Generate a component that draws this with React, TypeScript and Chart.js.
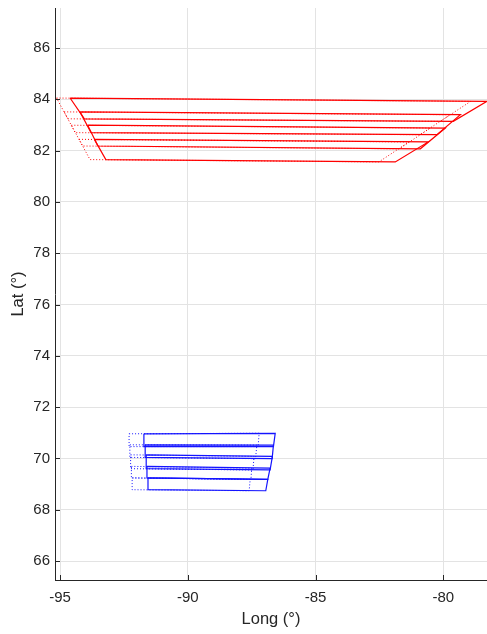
import React, { useEffect, useRef } from 'react';
import { Chart, registerables } from 'chart.js';

Chart.register(...registerables);

// Axis ticks
const xTicks = [-95, -90, -85, -80];
const yTicks = [66, 68, 70, 72, 74, 76, 78, 80, 82, 84, 86];
const xMin = -95.2;
const xMax = -78.29;
const yMin = 65.26;
const yMax = 87.56;

// Red footprints (4 overlapping strips) – latitudes
const redTopLatL = [84.05, 83.51, 82.99, 82.44];
const redTopLatR = [83.92, 83.4, 82.88, 82.34];
const redBotLatL = [83.24, 82.7, 82.18, 81.65];
const redBotLatR = [83.14, 82.62, 82.07, 81.56];
// Red solid – longitudes
const redSolidTopLonL = [-94.61, -94.22, -93.92, -93.66];
const redSolidBotLonL = [-94.05, -93.79, -93.52, -93.21];
const redSolidTopLonR = [-78.29, -79.33, -79.92, -80.59];
const redSolidBotLonR = [-79.61, -80.25, -80.9, -81.88];
// Red dotted – longitudes
const redDotTopLonL = [-95.14, -94.84, -94.56, -94.26];
const redDotBotLonL = [-94.7, -94.41, -94.12, -93.83];
const redDotTopLonR = [-78.93, -79.73, -80.51, -81.34];
const redDotBotLonR = [-80.12, -80.91, -81.73, -82.52];

// Blue footprints (5 strips) – latitudes
const blueTopLatL = [70.96, 70.53, 70.14, 69.69, 69.24];
const blueTopLatR = [70.98, 70.52, 70.08, 69.62, 69.18];
const blueBotLatL = [70.46, 70.04, 69.6, 69.24, 68.78];
const blueBotLatR = [70.46, 69.99, 69.55, 69.18, 68.74];
// Blue solid – longitudes
const blueSolidLonL = [-91.72, -91.67, -91.63, -91.6, -91.56];
const blueSolidTopLonR = [-86.58, -86.65, -86.69, -86.78, -86.87];
const blueSolidBotLonR = [-86.65, -86.7, -86.78, -86.87, -86.95];
// Blue dotted – longitudes
const blueDotLonL = [-92.3, -92.27, -92.24, -92.21, -92.18];
const blueDotTopLonR = [-87.21, -87.3, -87.41, -87.5, -87.56];
const blueDotBotLonR = [-87.25, -87.35, -87.45, -87.53, -87.6];

const RED = 'rgb(255,0,0)';
const BLUE = 'rgb(20,20,255)';
const AXIS = '#262626';
const FONT = "'Liberation Sans', Arial, Helvetica, sans-serif";

function polys(
  topLatL: number[], topLatR: number[], botLatL: number[], botLatR: number[],
  topLonL: number[], botLonL: number[], topLonR: number[], botLonR: number[]
) {
  return topLatL.map((_, i) => [
    { x: topLonL[i], y: topLatL[i] },
    { x: topLonR[i], y: topLatR[i] },
    { x: botLonR[i], y: botLatR[i] },
    { x: botLonL[i], y: botLatL[i] },
    { x: topLonL[i], y: topLatL[i] },
  ]);
}

function makeSets(list: { x: number; y: number }[][], color: string, dotted: boolean) {
  return list.map((pts) => ({
    data: pts,
    showLine: true,
    borderColor: color,
    backgroundColor: color,
    borderWidth: dotted ? 1 : 1.2,
    borderDash: dotted ? [1, 2] : [],
    pointRadius: 0,
    fill: false,
    tension: 0,
  }));
}

const tickMarks = {
  id: 'tickMarks',
  afterDraw(chart: any) {
    const { ctx, chartArea, scales } = chart;
    ctx.save();
    ctx.strokeStyle = AXIS;
    ctx.lineWidth = 1;
    ctx.beginPath();
    xTicks.forEach((v) => {
      const px = Math.round(scales.x.getPixelForValue(v)) + 0.5;
      ctx.moveTo(px, chartArea.bottom);
      ctx.lineTo(px, chartArea.bottom - 5);
    });
    yTicks.forEach((v) => {
      const py = Math.round(scales.y.getPixelForValue(v)) + 0.5;
      ctx.moveTo(chartArea.left, py);
      ctx.lineTo(chartArea.left + 5, py);
    });
    ctx.stroke();
    ctx.restore();
  },
};

export default function App() {
  const ref = useRef<HTMLCanvasElement | null>(null);
  useEffect(() => {
    if (!ref.current) return;
    const redDot = polys(redTopLatL, redTopLatR, redBotLatL, redBotLatR, redDotTopLonL, redDotBotLonL, redDotTopLonR, redDotBotLonR);
    const redSolid = polys(redTopLatL, redTopLatR, redBotLatL, redBotLatR, redSolidTopLonL, redSolidBotLonL, redSolidTopLonR, redSolidBotLonR);
    const blueDot = polys(blueTopLatL, blueTopLatR, blueBotLatL, blueBotLatR, blueDotLonL, blueDotLonL, blueDotTopLonR, blueDotBotLonR);
    const blueSolid = polys(blueTopLatL, blueTopLatR, blueBotLatL, blueBotLatR, blueSolidLonL, blueSolidLonL, blueSolidTopLonR, blueSolidBotLonR);
    const chart = new Chart(ref.current, {
      type: 'scatter',
      data: {
        datasets: [
          ...makeSets(redDot, RED, true),
          ...makeSets(blueDot, BLUE, true),
          ...makeSets(redSolid, RED, false),
          ...makeSets(blueSolid, BLUE, false),
        ] as any,
      },
      options: {
        animation: false,
        responsive: true,
        maintainAspectRatio: false,
        layout: { padding: { top: 8, right: 0, left: 0, bottom: 0 } },
        plugins: { legend: { display: false }, tooltip: { enabled: false } },
        scales: {
          x: {
            type: 'linear',
            min: xMin,
            max: xMax,
            afterBuildTicks: (s: any) => { s.ticks = xTicks.map((v) => ({ value: v })); },
            afterFit: (s: any) => { s.height = 54; s.paddingLeft = 0; s.paddingRight = 0; },
            grid: { color: '#e3e3e3', drawTicks: false },
            border: { display: true, color: AXIS, width: 1 },
            ticks: { color: AXIS, font: { family: FONT, size: 15 }, padding: 9, maxRotation: 0, autoSkip: false },
            title: { display: true, text: 'Long (°)', color: AXIS, font: { family: FONT, size: 16.5 }, padding: { top: 4, bottom: 5 } },
          },
          y: {
            type: 'linear',
            min: yMin,
            max: yMax,
            afterBuildTicks: (s: any) => { s.ticks = yTicks.map((v) => ({ value: v })); },
            afterFit: (s: any) => { s.width = 55; s.paddingTop = 0; s.paddingBottom = 0; },
            grid: { color: '#e3e3e3', drawTicks: false },
            border: { display: true, color: AXIS, width: 1 },
            ticks: { color: AXIS, font: { family: FONT, size: 15 }, padding: 5, autoSkip: false },
            title: { display: true, text: 'Lat (°)', color: AXIS, font: { family: FONT, size: 16.5 }, padding: { top: 9, bottom: 0 } },
          },
        },
      },
      plugins: [tickMarks],
    });
    return () => chart.destroy();
  }, []);
  return (
    <div style={{ position: 'fixed', left: 0, top: 0, width: 487, height: 634, background: '#fff' }}>
      <canvas ref={ref} />
    </div>
  );
}
